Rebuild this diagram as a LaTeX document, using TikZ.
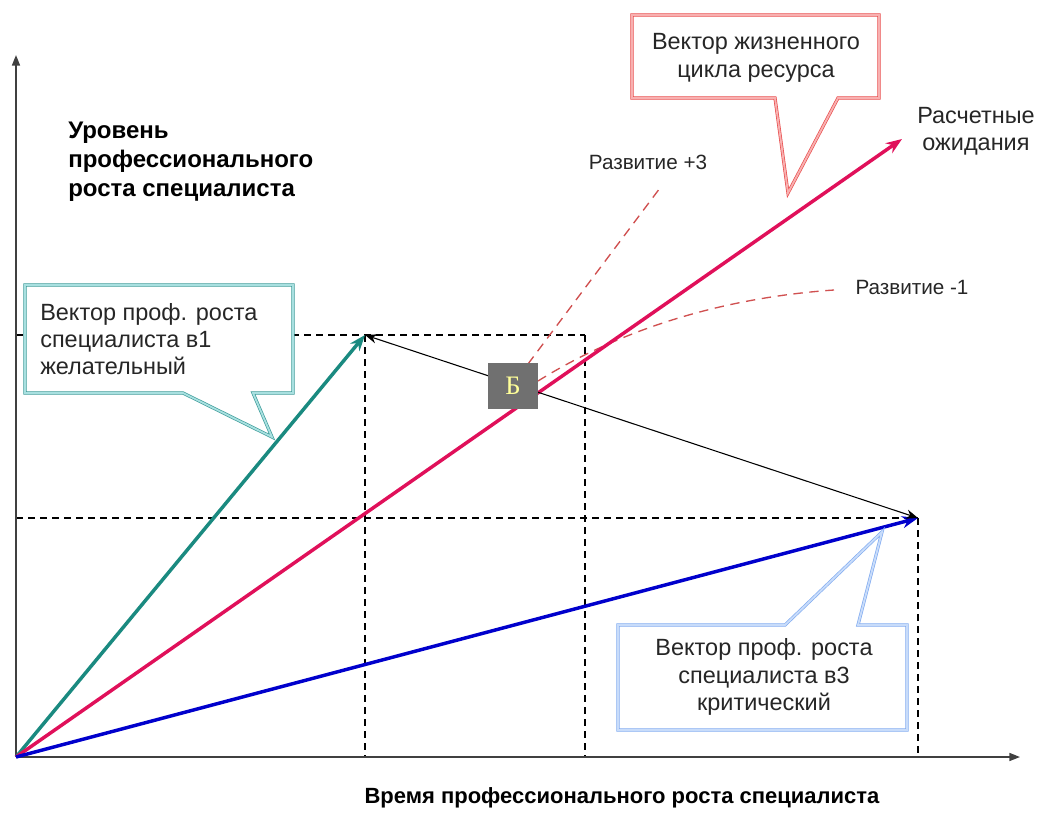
\documentclass[tikz,border=0pt]{standalone}
\usepackage{fontspec}
\setmainfont{Liberation Sans}
\newfontfamily\serifcyr{Liberation Serif}
\usetikzlibrary{arrows.meta}
\definecolor{magv}{HTML}{E0105A}
\definecolor{tealv}{HTML}{1A8A80}
\definecolor{bluev}{HTML}{0000CC}
\definecolor{devred}{HTML}{D05050}
\definecolor{calred}{HTML}{E84A4A}
\definecolor{calredin}{HTML}{F8B0B0}
\definecolor{calteal}{HTML}{3A9A98}
\definecolor{caltealin}{HTML}{A8E0E0}
\definecolor{calblue}{HTML}{80AAF0}
\definecolor{calbluein}{HTML}{C8DCFA}
\definecolor{bgray}{HTML}{707070}
\definecolor{byellow}{HTML}{FFFF99}
\tikzset{
  axisline/.style={draw=black!75, line width=1.2pt, -{Triangle[length=8pt,width=6pt]}},
  guide/.style={draw=black, line width=0.9pt, dash pattern=on 5pt off 4pt},
  vec/.style={line width=2.6pt, -{Stealth[length=12pt,width=9pt]}},
  devline/.style={draw=devred, line width=1pt, dash pattern=on 7pt off 5pt},
  callout/.style={fill=white, line width=0.5pt, double distance=1.4pt, line join=miter},
  caltext/.style={font=\fontsize{17.6}{20.5}\selectfont, text=black!85, align=center, inner sep=0pt},
  smalltext/.style={font=\fontsize{15.5}{18}\selectfont, text=black!85, align=center, inner sep=0pt},
  boldlabel/.style={font=\fontsize{16.5}{21.75}\selectfont\bfseries, inner sep=0pt}
}
\begin{document}
\begin{tikzpicture}[x=0.75pt,y=-0.75pt]
\useasboundingbox (0,0) rectangle (1046,814);
% key points
\coordinate (O) at (16,757);
\coordinate (ytop) at (16,55);
\coordinate (xend) at (1020,757);
\coordinate (A) at (365,335);
\coordinate (C) at (918,518);
\coordinate (M) at (902,139);
\coordinate (yA) at (16,335);
\coordinate (yC) at (16,518);
\coordinate (gA) at (585,335);
\coordinate (gB) at (585,757);
\coordinate (xA) at (365,757);
\coordinate (xC) at (918,757);
% guides
\draw[guide] (yA) -- (gA);
\draw[guide] (gA) -- (gB);
\draw[guide] (A) -- (xA);
\draw[guide] (yC) -- (C);
\draw[guide] (C) -- (xC);
% axes
\draw[axisline] (O) -- (ytop);
\draw[axisline] (O) -- (xend);
% development lines
\coordinate (d3a) at (528,364);
\coordinate (d3b) at (660,188);
\coordinate (d1a) at (538,381);
\coordinate (d1b) at (834,290);
\draw[devline] (d3a) -- (d3b);
\draw[devline] (d1a) .. controls (620,330) and (720,298) .. (d1b);
% vectors
\draw[vec, draw=tealv] (O) -- (A);
\draw[vec, draw=magv] (O) -- (M);
\draw[vec, draw=bluev] (O) -- (C);
\draw[line width=0.8pt, {Stealth[length=9pt,width=7pt]}-{Stealth[length=9pt,width=7pt]}] (A) -- (C);
% B box
\node[fill=bgray, minimum width=37.5pt, minimum height=34pt, inner sep=0pt,
      font=\serifcyr\fontsize{20}{22}\selectfont, text=byellow] (B) at (513,386) {Б};
% callouts
\draw[callout, draw=calred, double=calredin]
  (632,15) -- (879,15) -- (879,98) -- (838,98) -- (788,193) -- (775,98) -- (632,98) -- cycle;
\node[caltext] (redtxt) at (756,58) {Вектор жизненного\\цикла ресурса};
\draw[callout, draw=calteal, double=caltealin]
  (25,285) -- (293,285) -- (293,393) -- (253,393) -- (272,437) -- (183,393) -- (25,393) -- cycle;
\node[caltext, align=left, anchor=west] (tealtxt) at (40,339) {Вектор проф. роста\\специалиста в1\\желательный};
\draw[callout, draw=calblue, double=calbluein]
  (618,625) -- (785,625) -- (882,532) -- (858,625) -- (907,625) -- (907,730) -- (618,730) -- cycle;
\node[caltext] (bluetxt) at (764,677) {Вектор проф. роста\\специалиста в3\\критический};
% labels
\node[caltext] (exp) at (976,131) {Расчетные\\ожидания};
\node[smalltext] (dev3) at (648,162) {Развитие +3};
\node[smalltext] (dev1) at (912,287) {Развитие -1};
\node[boldlabel, font=\fontsize{18}{21.75}\selectfont\bfseries, align=left, anchor=north west] (ylab) at (68,122) {Уровень\\профессионального\\роста специалиста};
\node[boldlabel] (xlab) at (622,798) {Время профессионального роста специалиста};
\end{tikzpicture}
\end{document}
